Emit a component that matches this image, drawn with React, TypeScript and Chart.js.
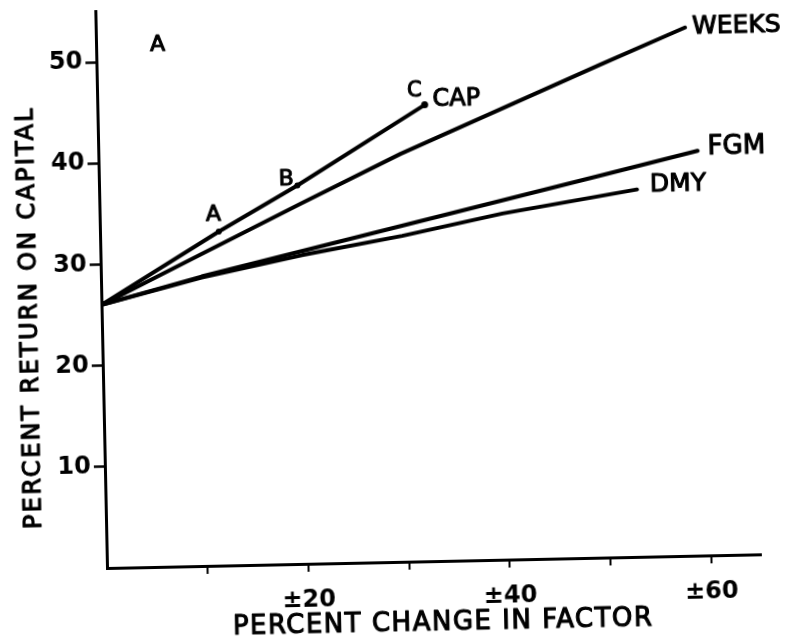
import React, { useEffect, useRef } from "react";
import { Chart, registerables } from "chart.js";

Chart.register(...registerables);

// ---- data ----
const xTickValues = [10, 20, 30, 40, 50, 60];
const xTickLabels = ["", "±20", "", "±40", "", "±60"];
const yTickValues = [10, 20, 30, 40, 50];

const weeksX = [0, 10, 20, 30, 40, 50, 58.5];
const weeksY = [26, 30.8, 35.6, 40.3, 44.5, 48.7, 52.2];

const capX = [0, 11.8, 19.7, 32.5];
const capY = [26, 33.0, 37.4, 45.1];

const fgmX = [0, 10, 20, 30, 40, 50, 59.5];
const fgmY = [26, 28.6, 30.9, 33.2, 35.5, 37.8, 40.0];

const dmyX = [0, 10, 20, 30, 40, 53.4];
const dmyY = [26, 28.5, 30.5, 32.2, 34.2, 36.3];

const annotationTexts = ["A", "WEEKS", "CAP", "C", "B", "A", "FGM", "DMY"];
const annotationX = [6.1, 59.2, 33.3, 31.5, 18.6, 11.3, 60.5, 54.7];
const annotationY = [51.6, 52.2, 45.6, 46.5, 38.0, 34.7, 40.3, 36.7];

const xTitle = "PERCENT CHANGE IN FACTOR";
const yTitle = "PERCENT RETURN ON CAPITAL";

// ---- styling ----
const FONT = '"DejaVu Sans", sans-serif';
const annotationSizes = [22, 25, 24, 21, 22, 22, 26, 25];
const annotationAlign: CanvasTextAlign[] = ["center", "left", "left", "center", "center", "center", "left", "left"];

const toPoints = (xs: number[], ys: number[]) => xs.map((x, i) => ({ x, y: ys[i] }));

const textPlugin = {
  id: "textPlugin",
  afterDraw(chart: any) {
    const ctx: CanvasRenderingContext2D = chart.ctx;
    const xs = chart.scales.x;
    const ys = chart.scales.y;
    ctx.save();
    ctx.fillStyle = "#000";
    ctx.strokeStyle = "#000";
    ctx.lineWidth = 1.1;
    ctx.lineJoin = "round";
    ctx.textBaseline = "middle";
    annotationTexts.forEach((t, i) => {
      ctx.font = `${annotationSizes[i]}px ${FONT}`;
      ctx.textAlign = annotationAlign[i];
      const px = xs.getPixelForValue(annotationX[i]);
      const py = ys.getPixelForValue(annotationY[i]);
      ctx.fillText(t, px, py);
      ctx.strokeText(t, px, py);
    });
    // x title
    const ca = chart.chartArea;
    ctx.font = `26px ${FONT}`;
    (ctx as any).letterSpacing = "1.5px";
    ctx.textAlign = "center";
    const xtX = ca.left + 335;
    const xtY = ca.bottom + 62;
    ctx.fillText(xTitle, xtX, xtY);
    ctx.strokeText(xTitle, xtX, xtY);
    // y title
    ctx.font = `24px ${FONT}`;
    (ctx as any).letterSpacing = "2.3px";
    ctx.translate(ca.left - 70.75, ca.bottom - 252);
    ctx.rotate(-Math.PI / 2);
    ctx.fillText(yTitle, 0, 0);
    ctx.strokeText(yTitle, 0, 0);
    ctx.restore();
  },
};

export default function App() {
  const ref = useRef<HTMLCanvasElement | null>(null);

  useEffect(() => {
    document.body.style.margin = "0";
    if (!ref.current) return;
    const lineDs = (label: string, xs: number[], ys: number[], extra: any = {}) => ({
      label,
      data: toPoints(xs, ys),
      showLine: true,
      borderColor: "#000",
      backgroundColor: "#000",
      borderWidth: 4,
      borderCapStyle: "round",
      borderJoinStyle: "round",
      pointRadius: 0,
      tension: 0,
      fill: false,
      ...extra,
    });
    const chart = new Chart(ref.current, {
      type: "scatter",
      data: {
        datasets: [
          lineDs("WEEKS", weeksX, weeksY),
          lineDs("CAP", capX, capY, { pointRadius: [0, 3, 3, 3.5], pointBorderWidth: 0, pointBackgroundColor: "#000" }),
          lineDs("FGM", fgmX, fgmY),
          lineDs("DMY", dmyX, dmyY),
        ],
      },
      options: {
        animation: false,
        responsive: false,
        devicePixelRatio: 1,
        layout: { padding: { top: 31.4, right: 58.4, left: 0, bottom: 0 } },
        plugins: { legend: { display: false }, tooltip: { enabled: false }, title: { display: false } },
        scales: {
          x: {
            type: "linear",
            min: 0,
            max: 65,
            afterBuildTicks: (s: any) => {
              s.ticks = xTickValues.map((v) => ({ value: v }));
            },
            afterFit: (s: any) => {
              s.height = 92;
            },
            ticks: {
              autoSkip: false,
              maxRotation: 0,
              color: "#000",
              padding: 14,
              font: { family: FONT, size: 24, weight: "bold" },
              callback: (_v: any, i: number) => xTickLabels[i],
            },
            grid: {
              display: true,
              drawOnChartArea: false,
              drawTicks: true,
              tickLength: 8,
              tickColor: "#000",
              tickWidth: 2,
              color: "#000",
            },
            border: { display: true, color: "#000", width: 3 },
          },
          y: {
            type: "linear",
            min: 0,
            max: 55,
            afterBuildTicks: (s: any) => {
              s.ticks = yTickValues.map((v) => ({ value: v }));
            },
            afterFit: (s: any) => {
              s.width = 127;
            },
            ticks: {
              autoSkip: false,
              color: "#000",
              padding: 3,
              font: { family: FONT, size: 24, weight: "bold" },
            },
            grid: {
              display: true,
              drawOnChartArea: false,
              drawTicks: true,
              tickLength: 11,
              tickColor: "#000",
              tickWidth: 2.5,
              color: "#000",
            },
            border: { display: true, color: "#000", width: 3 },
          },
        },
      },
      plugins: [textPlugin],
    } as any);
    return () => chart.destroy();
  }, []);

  return (
    <div style={{ position: "relative", width: 787, height: 640, overflow: "hidden", background: "#fff" }}>
      <canvas
        ref={ref}
        width={840}
        height={680}
        style={{
          position: "absolute",
          left: -20,
          top: -20,
          width: 840,
          height: 680,
          transform: "rotate(-1.2deg)",
          transformOrigin: "127px 588px",
        }}
      />
    </div>
  );
}
